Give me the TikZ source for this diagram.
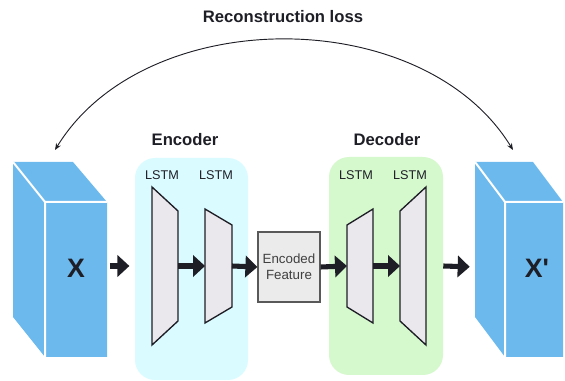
\documentclass[tikz,border=0pt]{standalone}
\usepackage{fontspec}
\setmainfont{Liberation Sans}
\newfontfamily\plainsans{Liberation Sans}
\usetikzlibrary{arrows.meta}

\definecolor{prismblue}{RGB}{108,185,238}
\definecolor{enccyan}{RGB}{218,251,255}
\definecolor{decgreen}{RGB}{213,248,205}
\definecolor{lstmgray}{RGB}{234,232,237}
\definecolor{inkdark}{RGB}{30,30,38}

% one LSTM block: name, left x, right x, half height left, half height right
\newcommand{\lstmblock}[5]{%
    \draw[lstm] (#2,266-#4) -- (#3,266-#5) -- (#3,266+#5) -- (#2,266+#4) -- cycle;
    \coordinate (#1-w) at (#2,266);
    \coordinate (#1-e) at (#3,266);
}

\begin{document}
\begin{tikzpicture}[x=0.75pt,y=-0.75pt,
    region/.style={rounded corners=15pt, inner sep=0pt},
    lstm/.style={draw=inkdark, fill=lstmgray, line width=1pt, line join=miter},
    flow/.style={-{Triangle[length=9pt,width=16pt]}, line width=3.8pt, inkdark},
    title/.style={font=\fontsize{12.5}{15}\selectfont\bfseries, text=inkdark},
    lstmlabel/.style={font=\fontsize{9.5}{11}\selectfont, text=inkdark},
    biglabel/.style={font=\fontsize{20}{24}\selectfont\bfseries, text=inkdark},
    face/.style={fill=prismblue, inner sep=0pt, minimum width=46.5pt, minimum height=116.25pt},
    edge/.style={white, line width=1.5pt}]
    \useasboundingbox (0,0) rectangle (565,381);

    % encoder and decoder regions
    \node[region, fill=enccyan, minimum width=84.75pt, minimum height=166.5pt] (enc) at (191.5,269) {};
    \node[region, fill=decgreen, minimum width=85.5pt, minimum height=163.5pt] (dec) at (386,266) {};

    \node[title] (enctitle) at (185,140) {Encoder};
    \node[title] (dectitle) at (387,140) {Decoder};

    % input X
    \fill[prismblue] (13,162) -- (73,162) -- (107,202) -- (107,357) -- (45,357) -- (13,317) -- cycle;
    \node[face] (xface) at (76,279.5) {};
    \draw[edge] (13,162) -- (45,202) -- (107,202) (45,202) -- (45,357);
    \node[biglabel] (xin) at (76,268) {X};

    % output X'
    \fill[prismblue] (475,162) -- (533,162) -- (563,202) -- (563,357) -- (505,357) -- (475,317) -- cycle;
    \node[face, minimum width=43.5pt] (xoface) at (534,279.5) {};
    \draw[edge] (475,162) -- (505,202) -- (563,202) (505,202) -- (505,357);
    \node[biglabel] (xout) at (537,268) {\plainsans X'};
    \coordinate (xout-w) at (475,267);

    % LSTM layers
    \lstmblock{e1}{152}{178}{79}{55}
    \lstmblock{e2}{205}{232}{57}{41}
    \lstmblock{d1}{347}{373}{41}{57}
    \lstmblock{d2}{400}{426}{55}{79}

    \node[lstmlabel] (e1lab) at (162,175) {LSTM};
    \node[lstmlabel] (e2lab) at (216,175) {LSTM};
    \node[lstmlabel] (d1lab) at (356,175) {LSTM};
    \node[lstmlabel] (d2lab) at (410,175) {LSTM};

    \node[draw=black!65, fill=black!8, line width=0.9pt, minimum width=46.5pt, minimum height=52.5pt,
          align=center, font=\fontsize{10}{12}\selectfont, text=black!75] (feat) at (289,267) {Encoded\\Feature};

    % data flow
    \draw[flow, shorten <=2pt, shorten >=4pt] (xface.east |- e1-w) -- (enc.west |- e1-w);
    \draw[flow] (e1-e) -- (e2-w);
    \draw[flow] (e2-e) -- (feat.west);
    \draw[flow] (feat.east) -- (d1-w);
    \draw[flow] (d1-e) -- (d2-w);
    \draw[flow, shorten >=4pt] (dec.east |- d2-e) -- (xout-w);

    % reconstruction loss
    \coordinate (lossl) at (55,150);
    \coordinate (lossr) at (513,150);
    \draw[{Stealth[length=5pt,width=4pt]}-{Stealth[length=5pt,width=4pt]}, line width=0.7pt, inkdark]
        (lossl) .. controls (145,3) and (423,3) .. (lossr);
    \node[title] (losstitle) at (283,17) {Reconstruction loss};
\end{tikzpicture}
\end{document}
